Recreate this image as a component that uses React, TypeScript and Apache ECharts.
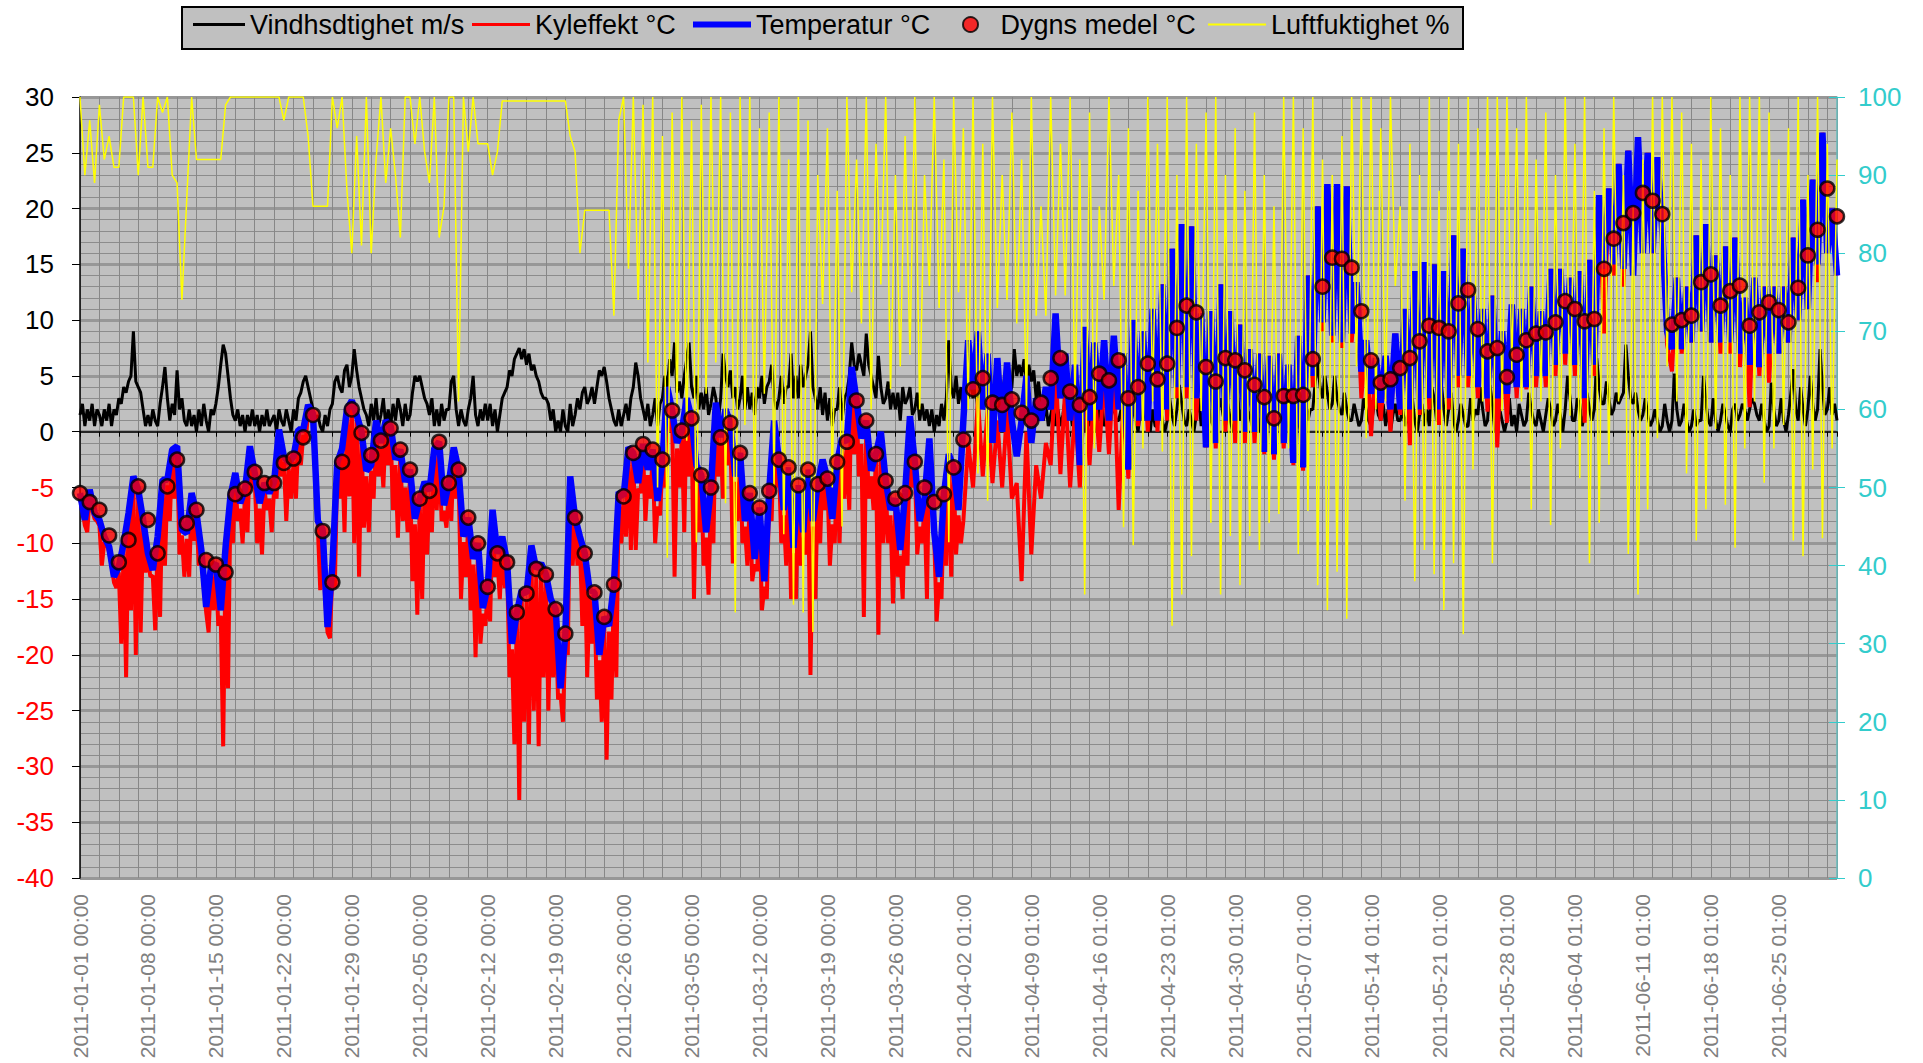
import React, { useEffect, useRef } from "react";
import * as echarts from "echarts";

// x axis tick labels (every 7 days)
const xLabels = [
  "2011-01-01 00:00", "2011-01-08 00:00", "2011-01-15 00:00", "2011-01-22 00:00", "2011-01-29 00:00",
  "2011-02-05 00:00", "2011-02-12 00:00", "2011-02-19 00:00", "2011-02-26 00:00", "2011-03-05 00:00",
  "2011-03-12 00:00", "2011-03-19 00:00", "2011-03-26 00:00", "2011-04-02 01:00", "2011-04-09 01:00",
  "2011-04-16 01:00", "2011-04-23 01:00", "2011-04-30 01:00", "2011-05-07 01:00", "2011-05-14 01:00",
  "2011-05-21 01:00", "2011-05-28 01:00", "2011-06-04 01:00", "2011-06-11 01:00", "2011-06-18 01:00",
  "2011-06-25 01:00",
];

const DAYS = 181;
const SPRING_START = 91; // day where Kyleffekt switches to two readings per day

// Dygns medel °C: one value per day (00:00), day 0 .. 181
const dailyMean = [
  -5.5, -6.3, -7.0, -9.3, -11.7, -9.7, -4.9, -7.9, -10.9, -4.9,
  -2.5, -8.2, -7.0, -11.5, -11.9, -12.6, -5.6, -5.1, -3.6, -4.6,
  -4.6, -2.8, -2.4, -0.5, 1.5, -8.9, -13.5, -2.7, 2.0, -0.1,
  -2.1, -0.8, 0.3, -1.6, -3.4, -6.0, -5.3, -0.9, -4.6, -3.4,
  -7.7, -10.0, -13.9, -10.9, -11.7, -16.2, -14.5, -12.3, -12.8, -15.9,
  -18.1, -7.7, -10.9, -14.4, -16.6, -13.7, -5.8, -1.9, -1.1, -1.6,
  -2.5, 1.9, 0.1, 1.2, -3.9, -5.0, -0.5, 0.8, -1.9, -5.5,
  -6.8, -5.3, -2.5, -3.2, -4.8, -3.4, -4.7, -4.2, -2.7, -0.9,
  2.8, 1.0, -2.0, -4.4, -6.0, -5.5, -2.7, -5.0, -6.3, -5.6,
  -3.2, -0.7, 3.8, 4.8, 2.6, 2.4, 2.9, 1.7, 1.0, 2.6,
  4.8, 6.6, 3.6, 2.4, 3.1, 5.2, 4.6, 6.4, 3.0, 4.0,
  6.1, 4.7, 6.1, 9.3, 11.3, 10.7, 5.8, 4.5, 6.6, 6.4,
  5.5, 4.2, 3.1, 1.2, 3.2, 3.2, 3.3, 6.5, 13.0, 15.6,
  15.5, 14.7, 10.8, 6.4, 4.4, 4.7, 5.7, 6.6, 8.1, 9.5,
  9.3, 9.0, 11.5, 12.7, 9.2, 7.2, 7.5, 4.9, 6.9, 8.2,
  8.8, 8.9, 9.8, 11.7, 11.0, 9.9, 10.1, 14.6, 17.3, 18.7,
  19.6, 21.4, 20.7, 19.5, 9.6, 10.0, 10.4, 13.4, 14.1, 11.3,
  12.6, 13.1, 9.5, 10.7, 11.6, 10.9, 9.8, 12.9, 15.8, 18.1,
  21.8, 19.3,
];

// Temperatur °C: two readings per day (00:00, 12:00)
const tempVals = [
  -5.5, -7.9, -5.2, -7.3, -7.9, -9.4, -10.3, -13, -12.1, -10, -7.3, -4, -5.2, -7.9, -10.9, -12.4, -9.4, -4.3, -4.3, -1.6,
  -1.3, -8.8, -9.1, -5.5, -7.3, -10.6, -15.7, -12.1, -11.8, -16, -10.3, -5.8, -3.7, -6.4, -5.2, -1.3, -3.7, -6.4, -4.6, -5.5,
  -4.5, 0.2, -2.2, -2.8, -2.2, 0.2, 0.2, 2.4, 1.6, -8, -8.8, -17.5, -12, -2.8, -1.5, 2, 2.8, 1.5, 0, -3.5,
  -3, 1, -1, 1, 0.5, -2.5, -1.6, -4.5, -3.4, -7.8, -6, -4.5, -5.3, -1.5, -0.9, -6.6, -4.6, -1.4, -3.4, -9.4,
  -7.7, -11.4, -10, -15.8, -13.9, -7, -10.9, -9.4, -11.7, -19, -16.2, -14.2, -14.5, -10.2, -12.3, -11.8, -12.8, -15, -15.9, -23,
  -18.1, -4, -7.7, -9.4, -10.9, -14.2, -14.4, -20, -16.6, -17.4, -13.7, -5.4, -5.8, -1.4, -1.9, -4.6, -1.1, -3.4, -1.6, -6.2,
  -2.5, 4, 1.9, -1, 0.1, 3, 1.2, -3, -3.9, -9, -5, 2.6, -0.5, 2, 0.8, -4, -1.9, -8, -5.5, -11.4,
  -6.8, -13.4, -5.3, 1, -2.5, -7, -3.2, -10.4, -4.8, -9, -3.4, -8, -4.7, -2.5, -4.2, -7.8, -2.7, -0.6, -0.9, 5.8,
  2.8, -0.6, 1, -3.5, -2, 0, -4.4, -7, -6, -10.6, -5.5, 1.4, -2.7, -8, -6, -0.6, -9, -13, -5.6, -2,
  -3.2, -7, 1, 8.2, 3.8, 9, 2, 7, -1, 6.6, 0, 6.2, 1, -2.2, 1, 5, -1, 3, 1, 4,
  2, 10.6, 3, 7, 1, 6, -3, 9.4, 1, 8, 2, 8.2, 1, 8.6, 2, 7, -3.4, 10, 1, 9,
  1, 11, 1, 13.2, 2, 16.4, 4, 18.6, 4, 18.4, 3, 10.6, -1.4, 10.8, -1, 13.2, 1, 10.8, 1, 9.6,
  0, 7.4, 0, 7, -1.8, 6.8, -2, 7, -1, 6, -2.8, 8.6, -3.2, 14, 5, 20.2, 9.8, 22.2, 8.6, 22.2,
  8, 22, 8.8, 13.4, 5.4, 8.2, 3.4, 6.6, 2.6, 6.8, 2, 8.8, 2, 11, 2, 14.4, 2, 15.2, 3, 15,
  2, 14.4, 3, 17.6, 5, 16.4, 5, 12.2, 4, 11, 3, 12.2, 3, 9, 3.4, 11.4, 4, 11, 4, 13,
  5, 10.8, 5, 14.6, 6, 14.6, 7, 13.8, 6, 14.4, 3, 15.4, 6, 21.2, 14.6, 21.8, 15, 24, 14.6, 25.2,
  14, 26.4, 16, 25, 16, 24.6, 18, 9, 7.4, 13.8, 7.4, 13, 8, 17.6, 9, 18.6, 8, 15.8, 8, 16.6,
  8, 17.4, 7, 12, 6, 13.8, 5.8, 13, 7, 13, 7, 13, 8, 17.4, 10, 20.8, 11, 22.6, 15, 26.8, 16, 20,
  14,
];

// Kyleffekt °C, winter part: four readings per day (00, 06, 12, 18), days 0 .. 90
const chillWinter = [
  -6, -7, -8.4, -9, -5.7, -7, -7.8, -8, -8.4, -12, -9.9, -10, -10.8, -12, -13.5, -14, -12.6, -19, -10.5, -22,
  -7.8, -16, -4.5, -20, -5.7, -18, -8.4, -12.6, -11.4, -13, -12.9, -17.8, -9.9, -16.6, -4.8, -12, -4.8, -8, -2.1, -6,
  -1.8, -11, -9.3, -13, -9.6, -13, -6, -9.8, -7.8, -12, -11.1, -14, -16.2, -18, -12.6, -16, -12.3, -17.4, -16.5, -28.2,
  -10.8, -23, -6.3, -10, -4.2, -8, -6.9, -10, -5.7, -9, -1.8, -5, -4.2, -10, -6.9, -11, -5.1, -7, -6, -9,
  -5, -6, -0.3, -4, -2.7, -8, -3.3, -6, -2.7, -6, -0.3, -3, -0.3, -1, 1.9, 1, 1.1, -2, -8.5, -14.2,
  -9.3, -15, -18, -18.5, -12.5, -14, -3.3, -6, -2, -9, 1.5, -5.8, 2.3, -10, 1, -13, -0.5, -8.6, -4, -9,
  -3.5, -6, 0.5, -4, -1.5, -5, 0.5, -3, 0, -7, -3, -9.5, -2.1, -8, -5, -9, -3.9, -13.4, -8.3, -16.4,
  -6.5, -15, -5, -11, -5.8, -9, -2, -7, -1.4, -8, -7.1, -8.6, -5.1, -8, -1.9, -6, -3.9, -15, -9.9, -13,
  -8.2, -16, -11.9, -20.2, -10.5, -19, -16.3, -17.4, -14.4, -17, -7.5, -13, -11.4, -15, -9.9, -14, -12.2, -22, -19.5, -28,
  -16.7, -33, -14.7, -26, -15, -28, -10.7, -25, -12.8, -28.2, -12.3, -22, -13.3, -25, -15.5, -22, -16.4, -24, -23.5, -26,
  -18.6, -20, -4.5, -12, -8.2, -12, -9.9, -17.4, -11.4, -22, -14.7, -19, -14.9, -24, -20.5, -26, -17.1, -29.4, -17.9, -24,
  -14.2, -22, -5.9, -10, -6.3, -9.4, -1.9, -10.6, -2.4, -10.6, -5.1, -5.5, -1.6, -8, -3.9, -6, -2.1, -10, -6.7, -7.5,
  -3, -5, 3.5, 0, 1.4, -13, -1.5, -5, -0.4, -9, 2.5, -4, 0.7, -15, -3.5, -9, -4.4, -12, -9.5, -14.6,
  -5.5, -10, 2.1, -4, -1, -6, 1.5, -3, 0.3, -11.8, -4.5, -8, -2.4, -10, -8.5, -12, -6, -13.4, -11.9, -12.5,
  -7.3, -16, -13.9, -15, -5.8, -8, 0.5, -5, -3, -10, -7.5, -12, -3.7, -15, -10.9, -15, -5.3, -12, -9.5, -11,
  -3.9, -21.8, -8.5, -15, -5.2, -10, -3, -7, -4.7, -12, -8.3, -10, -3.2, -10, -1.1, -6, -1.4, -7, 5.3, -2,
  2.3, -4, -1.1, -16.6, 0.5, -6, -4, -7, -2.5, -18.2, -0.5, -10, -4.9, -10, -7.5, -15.4, -6.5, -13, -11.1, -15,
  -6, -12, 0.9, -5, -3.2, -11, -8.5, -10, -6.5, -15, -1.1, -6, -9.5, -17, -13.5, -15, -6.1, -12, -2.5, -13,
  -3.7, -11, -7.5, -10,
];

// Kyleffekt °C, spring part: two readings per day (00:00, 12:00), days 91 .. 181
const chillSpring = [
  -8, -1, -5, 3, -4, 2, -4.6, 1, -5, 2, -6, -4.6, -13.4, 0, -11, -3, -6, -1,
  -3, 6, -3.8, 4, -5, 2, -5, 5, -3, 4, -1.8, 5, -2, 6, -7, 3, -4.2, 8, 0.5, 8,
  0, 11, 0, 13.2, 1, 16.4, 3, 18.6, 3, 18.4, 1, 10.6, -1.4, 10.8, -1.5, 13.2, 0, 10.8, -1, 9.6,
  -1, 7.4, -1, 7, -2, 6.8, -2.5, 7, -1.5, 6, -3, 8.6, -3.5, 14, 4, 20.2, 9, 22.2, 8, 22.2,
  7.5, 22, 8, 13.4, 3, 8.2, -0.4, 6.6, 1, 6.8, 0, 8.8, 1.5, 11, -1.2, 14.4, 1.5, 15.2, 2, 15,
  0.6, 14.4, 2, 17.6, 4, 16.4, 4, 12.2, 3, 11, 1.8, 12.2, -1.4, 9, 0.8, 11.4, 3, 11, 3.8, 13,
  4, 10.8, 4, 14.6, 5, 14.6, 6, 13.8, 5, 14.4, 0.8, 15.4, 5, 21.2, 8.8, 21.8, 14, 24, 13, 25.2,
  14, 26.4, 16, 25, 16, 24.6, 17, 7.8, 5.4, 13.8, 7, 13, 8, 17.6, 9, 18.6, 8, 15.8, 7, 16.6,
  7, 17.4, 5.8, 12, 2.2, 13.8, 5, 13, 4.4, 13, 7, 13, 8, 17.4, 10, 20.8, 11, 22.6, 13.4, 26.8, 16, 20,
  14,
];

// Vindhsdtighet m/s: four readings per day (00, 06, 12, 18)
const windVals = [
  1.5, 2.5, 0.5, 2, 1, 2.5, 0.5, 2, 1.5, 0.5, 2, 1, 2.5, 0.5, 2, 1.5, 3, 2.5, 4, 3.5,
  4.5, 5, 9, 4.5, 4, 3.5, 2, 0.5, 1.5, 0.5, 2, 1, 0.5, 2.5, 4, 5.8, 3, 1, 2.5, 1.5,
  5.5, 2, 3, 1, 0.5, 2, 0.5, 1.5, 0, 2, 0.5, 2.5, 1, 0, 2, 1.5, 2.5, 4, 6, 7.8,
  7, 5, 3, 1.5, 1, 2, 0.5, 1.5, 0, 1.5, 0.5, 2, 0.5, 1.5, 0, 1.5, 0.5, 2, 0.5, 1,
  1.5, 0, 2, 1, 0.5, 2, 1, 0, 2, 1, 3, 3.5, 4.5, 5, 4, 3, 2, 1, 1.5, 0.5,
  0, 1.5, 0.5, 2, 2.5, 4.5, 5, 4, 3.5, 5.5, 6, 4, 5, 7.4, 5.5, 4, 3, 2, 1.5, 0.5,
  2.5, 1, 3, 0.5, 1.5, 3, 0.5, 2, 0.5, 2.5, 1, 3, 2, 0.5, 2.5, 1, 1.5, 3.5, 5, 4.5,
  5, 4, 3, 2.5, 1.5, 3, 0.5, 2, 0.5, 2.5, 1, 2, 2, 4.5, 5, 2, 0.5, 2, 1, 0.5,
  2, 3, 5, 1.5, 0.5, 2, 1, 2.5, 1, 2.5, 0.5, 2, 0, 1.5, 3, 3.5, 4, 5.5, 5, 6.5,
  7, 7.5, 6.5, 7.4, 6, 7, 5.5, 6, 5, 4.5, 3.5, 3, 3, 2.5, 1, 2, 0, 1, 0, 2,
  0.5, 0, 2.5, 0.5, 1.5, 3, 2, 3.5, 4, 2.5, 3, 4, 2.5, 4, 5.5, 5, 5.8, 4.5, 3, 2,
  1, 0.5, 2, 0.5, 1.5, 2.5, 1, 3, 4, 6.2, 5, 3, 2, 1, 2.5, 0.5, 1.5, 3, 0.5, 2.5,
  3, 5, 4, 6.5, 5, 8, 3.5, 4.5, 3, 5, 6.5, 8, 4, 3, 5, 2, 3.5, 2, 4, 1.5,
  2.5, 4, 3, 1, 3, 7, 5, 4, 5.5, 3, 4, 2, 3, 5, 2, 4, 2, 3.5, 1.5, 4,
  3, 5, 2.5, 4, 4.5, 6, 3, 2, 3, 5, 2.5, 4, 4, 7, 3, 5, 3, 6, 4, 5,
  6, 9, 4, 3, 2, 4, 1.5, 3.5, 1, 3, 0.5, 2, 2, 4, 1, 3, 3.5, 5, 8, 6,
  5.5, 7, 6, 5, 8.8, 6, 5, 4, 3, 6.8, 4, 2.5, 3, 4.5, 2, 3.5, 2, 3.5, 1, 4,
  2.5, 3, 4, 1.5, 2, 3.5, 1, 2.5, 1, 2, 0.5, 2, 0, 1.5, 0.5, 2.5, 1, 3, 8.2, 4,
  3, 5, 2.5, 4, 2, 4.5, 3, 5, 3, 4, 2, 5, 3.5, 2, 4.5, 1.5, 2.5, 4, 2, 3,
  3, 5, 1.5, 3.5, 4, 7.4, 5, 6, 5, 6.5, 4.5, 6, 4.5, 5.5, 3, 4.5, 2, 1, 2.5, 0.5,
  1.5, 2.5, 0.5, 2, 0.5, 1.5, 3, 1, 2, 0.5, 2, 1, 1, 2.5, 0, 1.5, 0.5, 2, 1.5, 0,
  2, 3, 0.5, 1, 0, 1.5, 2.5, 1, 1, 2, 0, 2.5, 1.5, 0.5, 2.5, 1, 0, 2, 1, 2.5,
  1.5, 0, 2, 0.5, 0.5, 2.5, 1, 0, 1, 3, 1.5, 0.5, 2, 4.2, 2.5, 1, 0.5, 2, 1, 0,
  1.5, 3, 0.5, 2, 0, 2.5, 1, 0.5, 1, 2, 3, 1.5, 0.5, 2.5, 1, 0, 1, 3.5, 1, 2,
  0, 2, 1.5, 0.5, 1, 2.5, 0, 1.5, 0.5, 1.5, 2, 0, 1, 2, 0.5, 1.5, 0, 1.5, 2.5, 1,
  0.5, 2, 1, 0, 1.5, 3, 1, 2, 2, 4.5, 6.2, 4, 3, 5, 3.5, 2, 2.5, 5, 3, 2,
  1.5, 3.5, 2, 1, 1, 2.5, 1.5, 0.5, 1, 3, 2, 1, 0.5, 2, 3, 1.5, 1, 2.5, 0.5, 2,
  0, 1.5, 2.5, 1, 1, 2, 0.5, 1.5, 0.5, 3, 1, 0, 1.5, 2.5, 0.5, 2, 0.5, 4, 3, 1,
  1, 4.2, 2, 0.5, 2, 3.5, 1, 0, 1, 2.5, 1.5, 0.5, 0.5, 3, 1, 2, 1.5, 4, 2, 0.5,
  1, 4.2, 2.5, 0, 0.5, 2, 1, 0, 1, 3, 0.5, 1.5, 0, 2.5, 1.5, 0.5, 1, 3.5, 2, 1,
  0.5, 2, 1, 0, 1.5, 3, 2, 0.5, 1, 2.5, 1.5, 0, 2, 5, 3, 1, 1, 3, 2.5, 0.5,
  1.5, 3.5, 2, 1, 2, 6.6, 4, 2.5, 2.5, 4.5, 3, 1.5, 2, 3.5, 2.5, 3, 3.5, 7.8, 5, 3,
  2.5, 3.5, 2, 1, 1.5, 3, 1.5, 0.5, 1, 2, 1, 0, 0.5, 2.5, 1, 0, 1, 5.2, 2, 0.5,
  1, 2.5, 1, 0, 0.5, 2, 0.5, 1, 1, 5, 2.5, 1, 0.5, 3, 1, 0, 1, 2.5, 1.5, 0.5,
  0, 2, 2.5, 1, 1.5, 2.5, 2, 1, 2, 3, 2.5, 1.5, 1, 2.5, 1, 0, 0.5, 4.4, 2, 0.5,
  1, 3, 1, 0, 1.5, 3.5, 5.6, 2, 1, 4, 2, 0.5, 2, 5, 2.5, 1, 2, 7.4, 4, 1.5, 2, 4, 1.5, 2.5,
  1,
];

// Luftfuktighet %: two readings per day (00:00, 12:00)
const humidVals = [
  100, 90, 97, 89, 99, 92, 95, 91, 91, 100, 100, 100, 90, 100, 91, 91, 100, 98, 100, 90,
  89, 74, 87, 100, 92, 92, 92, 92, 92, 92, 99, 100, 100, 100, 100, 100, 100, 100, 100, 100,
  100, 100, 97, 100, 100, 100, 100, 95, 86, 86, 86, 86, 100, 96, 100, 88, 80, 95, 81, 100,
  80, 92, 100, 89, 96, 90, 82, 100, 100, 94, 100, 93, 89, 100, 82, 86, 100, 100, 61, 100,
  93, 100, 94, 94, 94, 90, 93, 99.5, 99.5, 99.5, 99.5, 99.5, 99.5, 99.5, 99.5, 99.5, 99.5, 99.5, 99.5, 99.5,
  99.5, 95, 93, 80, 85.5, 85.5, 85.5, 85.5, 85.5, 85.5, 72, 97, 100, 78, 100, 74, 99, 66, 100, 50,
  95, 41, 98, 60, 100, 56, 97, 43, 99, 62, 100, 66, 100, 48, 98, 34, 100, 58, 100, 48,
  96, 62, 98, 50, 100, 44, 92, 35, 100, 34, 97, 31.5, 90, 73.5, 96, 50, 88, 45, 100, 75,
  92, 71, 100, 60, 94, 76, 100, 62.6, 90, 65.5, 95, 67, 100, 60, 90, 75.8, 100, 73, 92, 43,
  100, 75, 96, 60, 100, 51.8, 94, 48.3, 100, 73, 90, 74, 98, 71, 92, 60, 100, 72, 86, 72,
  100, 74.6, 94, 74.6, 100, 61, 92, 36.3, 98, 55, 86, 74, 100, 75.8, 90, 44.9, 96, 42.6, 88, 55,
  100, 61, 94, 54.6, 100, 32.3, 90, 36.3, 100, 41.2, 94, 59.8, 98, 45.5, 100, 36.3, 90, 43.8, 96, 37.5,
  88, 43.8, 98, 42, 90, 45.5, 86, 46.6, 100, 55, 100, 41.5, 96, 47, 100, 37.5, 92, 34.3, 90, 39.2,
  95, 33.2, 100, 65.5, 100, 56.3, 100, 60, 96, 61, 100, 75.8, 86, 48.3, 94, 38, 90, 42, 100, 38.9,
  88, 34.3, 100, 40.3, 94, 31.2, 100, 52.3, 96, 61, 100, 40.3, 100, 59.8, 100, 65, 96, 61, 100, 47.2,
  92, 61, 98, 45.2, 90, 55, 100, 59.2, 94, 51.2, 100, 40.3, 88, 45.5, 96, 52.9, 100, 61, 90, 41.5,
  86, 36.3, 92, 47.2, 100, 56.3, 100, 65.5, 100, 61, 98, 51.8, 94, 43.2, 92, 47.2, 100, 57.5, 96, 47.8,
  90, 42.3, 100, 55, 100, 61, 100, 50.6, 98, 55, 92, 58, 96, 43.2, 100, 41.2, 90, 52.3, 100, 43.5, 94, 55,
  92,
];

const NAMES = ["Vindhsdtighet m/s", "Kyleffekt °C", "Temperatur °C", "Dygns medel °C", "Luftfuktighet %"];
const COLORS = ["#000000", "#FF0000", "#0000FF", "#FF0000", "#FFFF00"];
const FONT = "'Liberation Sans', Arial, Helvetica, sans-serif";

// legend slots: [left x, icon width, icon]
const LEGEND_SLOTS: [number, number, string][] = [
  [193, 52, "path://M0,0H52V3H0Z"],
  [472, 58, "path://M0,0H58V3H0Z"],
  [693, 58, "path://M0,0H58V6H0Z"],
  [962, 50, "circle"],
  [1208, 58, "path://M0,0H58V2H0Z"],
];

export default function App() {
  const ref = useRef<HTMLDivElement>(null);

  useEffect(() => {
    document.body.style.margin = "0";
    if (!ref.current) return;
    const chart = echarts.init(ref.current, null, { renderer: "svg" });

    const perDay = (arr: number[], n: number, start = 0) => arr.map((v, i) => [start + i / n, v]);
    const chillData = [...perDay(chillWinter, 4, 0), ...perDay(chillSpring, 2, SPRING_START)];

    const legends = NAMES.map((name, i) => ({
      left: LEGEND_SLOTS[i][0],
      top: 11,
      padding: 0,
      data: [{ name, icon: LEGEND_SLOTS[i][2] }],
      itemWidth: LEGEND_SLOTS[i][1],
      itemHeight: i === 3 ? 15 : 14,
      textStyle: { fontSize: 27, color: "#000000", fontFamily: FONT },
    }));

    const option: any = {
      animation: false,
      textStyle: { fontFamily: FONT },
      graphic: [
        {
          type: "rect",
          left: 181,
          top: 6,
          z: 0,
          shape: { width: 1281, height: 42 },
          style: { fill: "#C0C0C0", stroke: "#000000", lineWidth: 2 },
        },
      ],
      legend: legends,
      grid: {
        left: 80,
        top: 97,
        width: 1757,
        height: 781,
        show: true,
        backgroundColor: "#C0C0C0",
        borderWidth: 0,
        containLabel: false,
        outerBoundsMode: "none",
      },
      xAxis: [
        {
          type: "value",
          min: 0,
          max: DAYS,
          interval: 7,
          position: "bottom",
          axisLine: { show: false, onZero: false },
          axisTick: { show: false },
          splitLine: { show: false },
          axisLabel: {
            rotate: 90,
            margin: 16,
            color: "#808080",
            fontSize: 21,
            fontFamily: FONT,
            formatter: (v: number) => {
              const k = Math.round(v / 7);
              return Math.abs(v - k * 7) < 1e-6 && k < xLabels.length ? xLabels[k] : "";
            },
          },
        },
        {
          type: "value",
          min: 0,
          max: DAYS,
          interval: 2,
          position: "bottom",
          axisLine: { show: true, onZero: true, onZeroAxisIndex: 0, lineStyle: { color: "#000000", width: 1.5 } },
          axisTick: { show: true, length: 5, lineStyle: { color: "#000000", width: 1 } },
          axisLabel: { show: false },
          splitLine: { show: true, lineStyle: { color: "#878787", width: 1 } },
        },
      ],
      yAxis: [
        {
          type: "value",
          min: -40,
          max: 30,
          interval: 5,
          position: "left",
          axisLine: { show: true, onZero: false, lineStyle: { color: "#000000", width: 1.5 } },
          axisTick: { show: true, length: 8, lineStyle: { color: "#000000", width: 1 } },
          axisLabel: {
            margin: 26,
            fontSize: 26,
            fontFamily: FONT,
            formatter: (v: number) => (v < 0 ? `{neg|${v}}` : `{pos|${v}}`),
            rich: {
              neg: { color: "#FF0000", fontSize: 26, fontFamily: FONT },
              pos: { color: "#000000", fontSize: 26, fontFamily: FONT },
            },
          },
          splitLine: { show: true, lineStyle: { color: "#979797", width: 3 } },
          minorTick: { show: false, splitNumber: 5 },
          minorSplitLine: { show: true, lineStyle: { color: "#8C8C8C", width: 1 } },
        },
        {
          type: "value",
          min: 0,
          max: 100,
          interval: 10,
          position: "right",
          axisLine: { show: true, onZero: false, lineStyle: { color: "#66BBBB", width: 1.5 } },
          axisTick: { show: true, length: 8, lineStyle: { color: "#33CCCC", width: 1 } },
          axisLabel: { margin: 21, color: "#33CCCC", fontSize: 26, fontFamily: FONT },
          splitLine: { show: false },
        },
        {
          type: "value",
          min: 0,
          max: 100,
          interval: 10,
          position: "right",
          axisLine: { show: false, onZero: false },
          axisTick: { show: true, inside: true, length: 8, lineStyle: { color: "#33CCCC", width: 1 } },
          axisLabel: { show: false },
          splitLine: { show: false },
        },
      ],
      series: [
        {
          name: NAMES[0],
          type: "line",
          xAxisIndex: 0,
          yAxisIndex: 0,
          symbol: "none",
          z: 2,
          lineStyle: { color: COLORS[0], width: 3 },
          itemStyle: { color: COLORS[0] },
          data: perDay(windVals, 4),
        },
        {
          name: NAMES[1],
          type: "line",
          xAxisIndex: 0,
          yAxisIndex: 0,
          symbol: "none",
          z: 3,
          lineStyle: { color: COLORS[1], width: 4 },
          itemStyle: { color: COLORS[1] },
          data: chillData,
        },
        {
          name: NAMES[2],
          type: "line",
          xAxisIndex: 0,
          yAxisIndex: 0,
          symbol: "none",
          z: 4,
          lineStyle: { color: COLORS[2], width: 6.5 },
          itemStyle: { color: COLORS[2] },
          data: perDay(tempVals, 2),
        },
        {
          name: NAMES[3],
          type: "scatter",
          xAxisIndex: 0,
          yAxisIndex: 0,
          symbol: "circle",
          symbolSize: 14,
          clip: false,
          z: 6,
          itemStyle: { color: COLORS[3], borderColor: "#000000", borderWidth: 2.5 },
          data: perDay(dailyMean, 1),
        },
        {
          name: NAMES[4],
          type: "line",
          xAxisIndex: 0,
          yAxisIndex: 1,
          symbol: "none",
          z: 5,
          lineStyle: { color: COLORS[4], width: 1.5 },
          itemStyle: { color: COLORS[4] },
          data: perDay(humidVals, 2),
        },
      ],
    };

    chart.setOption(option);
    return () => chart.dispose();
  }, []);

  return (
    <div
      ref={ref}
      style={{ position: "absolute", left: 0, top: 0, width: 1923, height: 1063 }}
    />
  );
}
